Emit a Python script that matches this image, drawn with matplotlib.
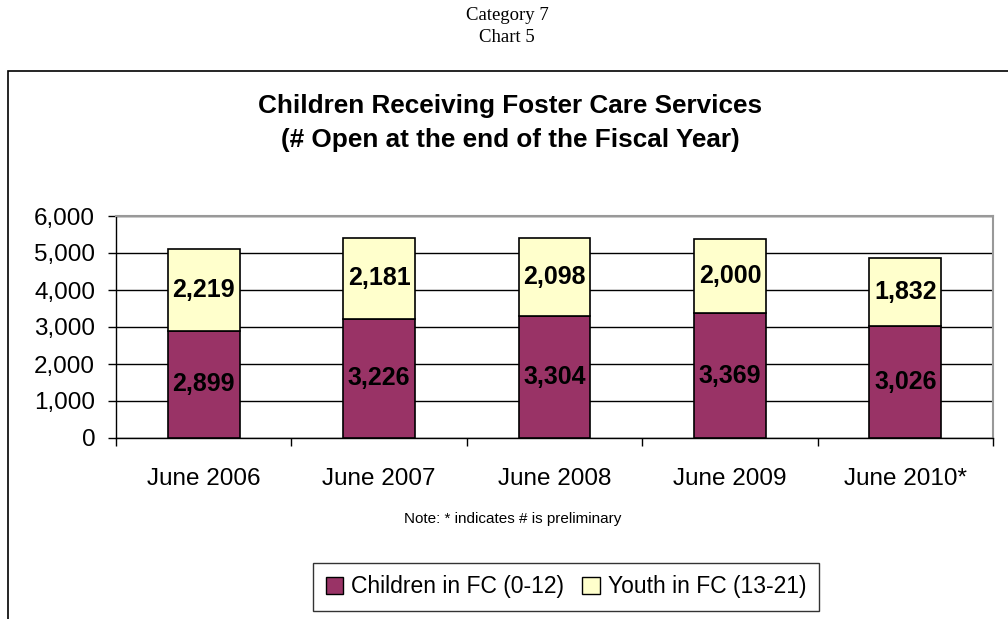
import matplotlib
matplotlib.use("Agg")
import matplotlib.pyplot as plt
from matplotlib.patches import Rectangle, Patch
import numpy as np

# Data
categories = ["June 2006", "June 2007", "June 2008", "June 2009", "June 2010*"]
children = [2899, 3226, 3304, 3369, 3026]
youth = [2219, 2181, 2098, 2000, 1832]
yticks = [0, 1000, 2000, 3000, 4000, 5000, 6000]

maroon = "#993366"
cream = "#FFFFCC"
sans = ["Liberation Sans", "DejaVu Sans"]
serif = ["Liberation Serif", "DejaVu Serif"]

W, H = 1008, 619
fig = plt.figure(figsize=(W / 100, H / 100), dpi=100)
fig.patch.set_facecolor("white")

# outer chart frame (runs off the right and bottom edges)
fig.patches.append(Rectangle((8 / W, -0.1), 1.2, 1 - 71 / H + 0.1,
                             transform=fig.transFigure, fill=False,
                             edgecolor="black", linewidth=1.2))

fig.text(0.503, 1 - 16 / H, "Category 7", ha="center", va="center",
         family=serif, fontsize=13.5)
fig.text(0.503, 1 - 38 / H, "Chart 5", ha="center", va="center",
         family=serif, fontsize=13.5)
fig.text(0.506, 1 - 106 / H, "Children Receiving Foster Care Services",
         ha="center", va="center", family=sans, fontsize=18.8, fontweight="bold")
fig.text(0.506, 1 - 140 / H, "(# Open at the end of the Fiscal Year)",
         ha="center", va="center", family=sans, fontsize=18.8, fontweight="bold")

ax = fig.add_axes([116 / W, 1 - 438 / H, 877 / W, 222 / H])
x = np.arange(len(categories))
width = 0.41
ax.bar(x, children, width, color=maroon, edgecolor="black", linewidth=1.2,
       zorder=3)
ax.bar(x, youth, width, bottom=children, color=cream, edgecolor="black",
       linewidth=1.2, zorder=3)

for i in range(len(categories)):
    ax.text(x[i], children[i] / 2, f"{children[i]:,}", ha="center", va="center",
            family=sans, fontsize=18, fontweight="bold", zorder=4)
    ax.text(x[i], children[i] + youth[i] / 2, f"{youth[i]:,}", ha="center",
            va="center", family=sans, fontsize=18, fontweight="bold", zorder=4)

ax.set_xlim(-0.5, len(categories) - 0.5)
ax.set_ylim(0, 6000)
ax.set_yticks(yticks)
ax.set_yticklabels([f"{v:,}" for v in yticks], family=sans, fontsize=17.5)
ax.yaxis.grid(True, color="black", linewidth=1, zorder=0)
ax.set_axisbelow(True)

ax.set_xticks(x)
ax.set_xticklabels(categories, family=sans, fontsize=17.5)
ax.set_xticks(np.arange(len(categories) + 1) - 0.5, minor=True)
ax.tick_params(axis="x", which="major", length=0, pad=21.5)
ax.tick_params(axis="x", which="minor", length=6, width=1, direction="out")
ax.tick_params(axis="y", length=6, width=1, direction="out", pad=9)

for s in ["top", "right"]:
    ax.spines[s].set_color("#999999")
    ax.spines[s].set_linewidth(1.5)
for s in ["left", "bottom"]:
    ax.spines[s].set_color("black")
    ax.spines[s].set_linewidth(1)

fig.text(0.509, 1 - 519 / H, "Note: * indicates # is preliminary", ha="center",
         va="center", family=sans, fontsize=11)

handles = [Patch(facecolor=maroon, edgecolor="black"),
           Patch(facecolor=cream, edgecolor="black")]
leg = fig.legend(handles, ["Children in FC (0-12)", "Youth in FC (13-21)"],
                 loc="center", bbox_to_anchor=(566 / W, 1 - 587 / H), ncol=2,
                 frameon=True, fancybox=False, edgecolor="black",
                 prop={"family": sans, "size": 16.5}, handlelength=0.75,
                 handleheight=0.75, handletextpad=0.35, columnspacing=0.8,
                 borderpad=0.55, borderaxespad=0)
leg.get_frame().set_linewidth(1)

fig.savefig("out.png", dpi=100)
